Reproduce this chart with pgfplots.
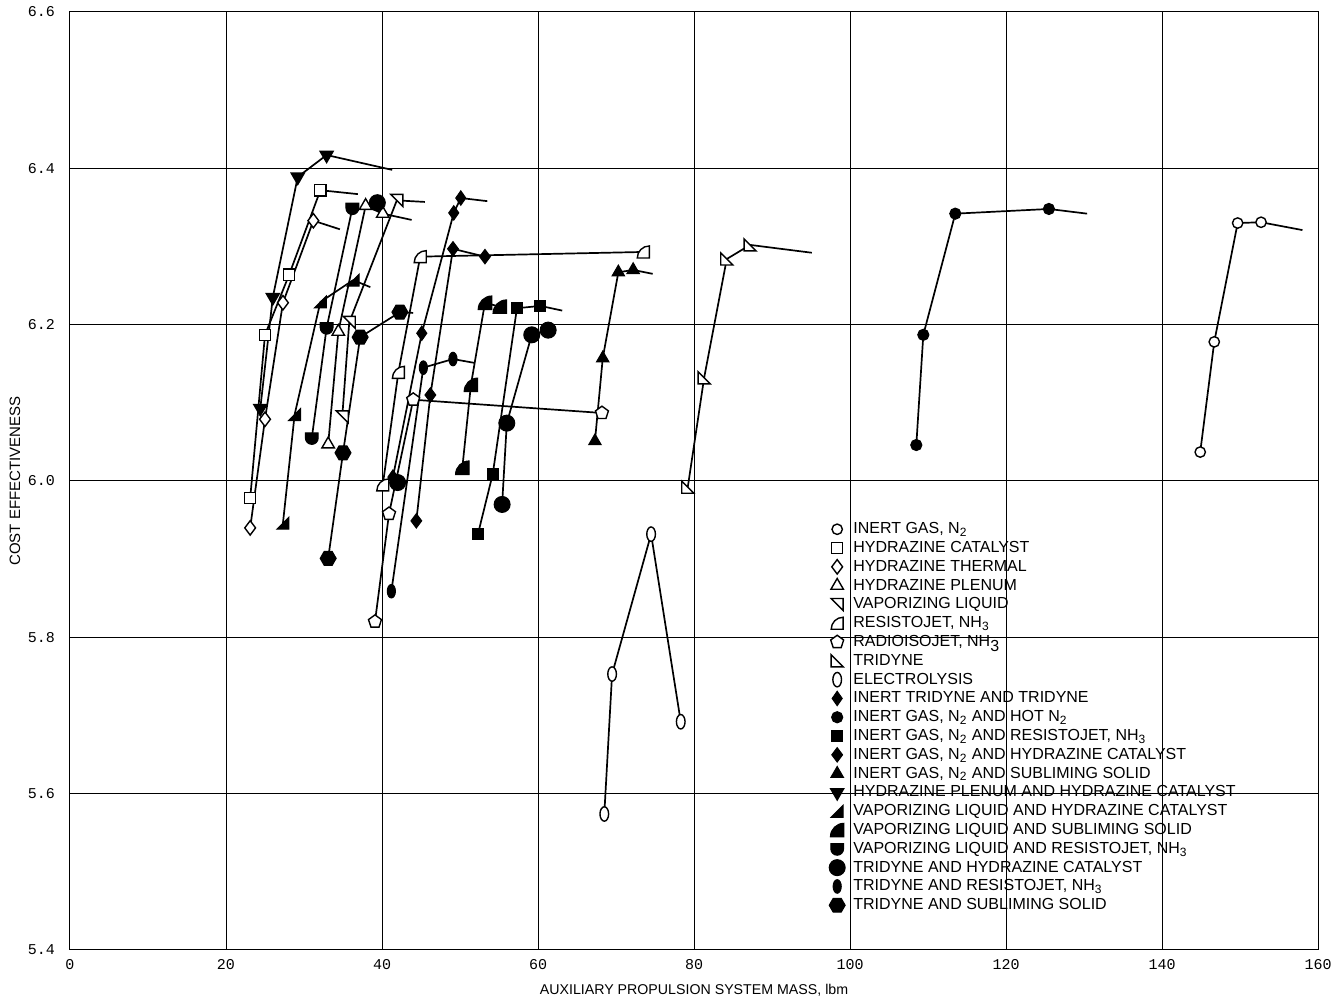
\documentclass[border=0pt]{standalone}
\usepackage{fontspec}
\setmainfont{Liberation Sans}
\setsansfont{Liberation Sans}
\newfontfamily\tickfont{Liberation Mono}
\usepackage{pgfplots}
\pgfplotsset{compat=1.18}
\usetikzlibrary{plotmarks}

% custom marks
\pgfdeclareplotmark{triLL}{% right angle bottom-left
 \pgfpathmoveto{\pgfqpoint{-\pgfplotmarksize}{-\pgfplotmarksize}}
 \pgfpathlineto{\pgfqpoint{\pgfplotmarksize}{-\pgfplotmarksize}}
 \pgfpathlineto{\pgfqpoint{-\pgfplotmarksize}{\pgfplotmarksize}}
 \pgfpathclose\pgfusepathqfillstroke}
\pgfdeclareplotmark{triUR}{% right angle top-right
 \pgfpathmoveto{\pgfqpoint{-\pgfplotmarksize}{\pgfplotmarksize}}
 \pgfpathlineto{\pgfqpoint{\pgfplotmarksize}{\pgfplotmarksize}}
 \pgfpathlineto{\pgfqpoint{\pgfplotmarksize}{-\pgfplotmarksize}}
 \pgfpathclose\pgfusepathqfillstroke}
\pgfdeclareplotmark{triLR}{% right angle bottom-right
 \pgfpathmoveto{\pgfqpoint{-\pgfplotmarksize}{-\pgfplotmarksize}}
 \pgfpathlineto{\pgfqpoint{\pgfplotmarksize}{-\pgfplotmarksize}}
 \pgfpathlineto{\pgfqpoint{\pgfplotmarksize}{\pgfplotmarksize}}
 \pgfpathclose\pgfusepathqfillstroke}
\pgfdeclareplotmark{quart}{% quarter disc, centre bottom-right
 \pgfpathmoveto{\pgfqpoint{-\pgfplotmarksize}{-\pgfplotmarksize}}
 \pgfpathlineto{\pgfqpoint{\pgfplotmarksize}{-\pgfplotmarksize}}
 \pgfpathlineto{\pgfqpoint{\pgfplotmarksize}{\pgfplotmarksize}}
 \pgfpathcurveto{\pgfqpoint{-0.104\pgfplotmarksize}{\pgfplotmarksize}}
                {\pgfqpoint{-\pgfplotmarksize}{0.104\pgfplotmarksize}}
                {\pgfqpoint{-\pgfplotmarksize}{-\pgfplotmarksize}}
 \pgfpathclose\pgfusepathqfillstroke}
\pgfdeclareplotmark{shield}{% flat top, round bottom
 \pgfpathmoveto{\pgfqpoint{-\pgfplotmarksize}{0.8\pgfplotmarksize}}
 \pgfpathlineto{\pgfqpoint{\pgfplotmarksize}{0.8\pgfplotmarksize}}
 \pgfpathlineto{\pgfqpoint{\pgfplotmarksize}{0pt}}
 \pgfpathcurveto{\pgfqpoint{\pgfplotmarksize}{-0.552\pgfplotmarksize}}
                {\pgfqpoint{0.552\pgfplotmarksize}{-\pgfplotmarksize}}
                {\pgfqpoint{0pt}{-\pgfplotmarksize}}
 \pgfpathcurveto{\pgfqpoint{-0.552\pgfplotmarksize}{-\pgfplotmarksize}}
                {\pgfqpoint{-\pgfplotmarksize}{-0.552\pgfplotmarksize}}
                {\pgfqpoint{-\pgfplotmarksize}{0pt}}
 \pgfpathclose\pgfusepathqfillstroke}
\pgfdeclareplotmark{narrowell}{%
 \pgfpathellipse{\pgfpointorigin}{\pgfqpoint{0.6\pgfplotmarksize}{0pt}}{\pgfqpoint{0pt}{\pgfplotmarksize}}
 \pgfusepathqfillstroke}
\pgfdeclareplotmark{narrowdia}{%
 \pgfpathmoveto{\pgfqpoint{0pt}{\pgfplotmarksize}}
 \pgfpathlineto{\pgfqpoint{0.7\pgfplotmarksize}{0pt}}
 \pgfpathlineto{\pgfqpoint{0pt}{-\pgfplotmarksize}}
 \pgfpathlineto{\pgfqpoint{-0.7\pgfplotmarksize}{0pt}}
 \pgfpathclose\pgfusepathqfillstroke}
\pgfdeclareplotmark{hexa}{%
 \pgfpathmoveto{\pgfqpointpolar{0}{\pgfplotmarksize}}
 \pgfpathlineto{\pgfqpointpolar{60}{\pgfplotmarksize}}
 \pgfpathlineto{\pgfqpointpolar{120}{\pgfplotmarksize}}
 \pgfpathlineto{\pgfqpointpolar{180}{\pgfplotmarksize}}
 \pgfpathlineto{\pgfqpointpolar{240}{\pgfplotmarksize}}
 \pgfpathlineto{\pgfqpointpolar{300}{\pgfplotmarksize}}
 \pgfpathclose\pgfusepathqfillstroke}

\pgfplotsset{
 openm/.style={black, line width=0.85pt, mark size=3pt, mark options={draw=black, fill=white, solid, line width=0.7pt}},
 fillm/.style={black, line width=0.85pt, mark size=3pt, mark options={draw=black, fill=black, solid, line width=0.5pt}},
 tail/.style={forget plot, black, line width=0.85pt, no marks},
}

\begin{document}
\begin{tikzpicture}
\path[use as bounding box] (-35pt,-25pt) rectangle (634.5pt,475pt);
\begin{axis}[
 at={(0,0)}, anchor=south west, scale only axis, width=624pt, height=469pt,
 xmin=0, xmax=160, ymin=5.4, ymax=6.6,
 xtick={0,20,40,60,80,100,120,140,160},
 ytick={5.4,5.6,5.8,6.0,6.2,6.4,6.6},
 grid=major, grid style={black, line width=0.5pt},
 axis line style={line width=0.5pt},
 major tick length=0pt,
 /pgf/number format/assume math mode=true,
 yticklabel={\pgfmathprintnumber[fixed,fixed zerofill,precision=1]{\tick}},
 xticklabel style={font=\tickfont\fontsize{7.5}{8}\selectfont, yshift=-1pt},
 yticklabel style={font=\tickfont\fontsize{7.5}{8}\selectfont, xshift=-4pt},
 xlabel={AUXILIARY PROPULSION SYSTEM MASS, lbm},
 ylabel={COST EFFECTIVENESS},
 xlabel style={font=\fontsize{7.1}{8}\selectfont, at={(axis description cs:0.5,-0.0426)}, anchor=center},
 ylabel style={font=\fontsize{7.5}{8}\selectfont, at={(axis description cs:-0.0441,0.5)}, anchor=center},
 legend image code/.code={\draw[#1] plot coordinates {(0pt,0pt)};},
 legend cell align=left,
 legend style={at={(0.608,0.459)}, anchor=north west, draw=none, fill=none, inner sep=0pt,
   font=\fontsize{8}{9.5}\selectfont, row sep=0pt,
   /tikz/every odd column/.append style={column sep=3.5pt},
   nodes={inner sep=0.6pt, text height=6.3pt, text depth=1.9pt}},
]
% 1 inert gas N2
\addplot[openm, mark=*, mark size=2.6pt] coordinates {(144.9,6.037)(146.7,6.178)(149.7,6.330)(152.7,6.331)};
\addlegendentry{INERT GAS, N\textsubscript{2}}
% 2 hydrazine catalyst
\addplot[openm, mark=square*, mark size=2.8pt] coordinates {(23.1,5.978)(25.0,6.187)(28.1,6.264)(32.1,6.372)};
\addlegendentry{HYDRAZINE CATALYST}
% 3 hydrazine thermal
\addplot[openm, mark=diamond*, mark size=3.6pt] coordinates {(23.1,5.940)(25.0,6.079)(27.3,6.228)(31.2,6.333)};
\addlegendentry{HYDRAZINE THERMAL}
% 4 hydrazine plenum
\addplot[openm, mark=triangle*, mark size=3.6pt] coordinates {(33.1,6.047)(34.4,6.191)(37.9,6.352)(40.1,6.342)};
\addlegendentry{HYDRAZINE PLENUM}
% 5 vaporizing liquid
\addplot[openm, mark=triUR, mark size=3pt] coordinates {(34.9,6.082)(35.8,6.203)(41.9,6.359)};
\addlegendentry{VAPORIZING LIQUID}
% 6 resistojet
\addplot[openm, mark=quart, mark size=3pt] coordinates {(40.1,5.995)(42.1,6.139)(44.9,6.287)(73.5,6.293)};
\addlegendentry{RESISTOJET, NH\textsubscript{3}}
% 7 radioisojet
\addplot[openm, mark=pentagon*, mark size=3.4pt] coordinates {(39.1,5.820)(40.9,5.958)(44.0,6.104)(68.2,6.087)};
\addlegendentry{RADIOISOJET, NH\raisebox{-0.6ex}{3}}
% 8 tridyne
\addplot[openm, mark=triLL, mark size=3pt] coordinates {(79.2,5.992)(81.3,6.132)(84.2,6.284)(87.2,6.302)};
\addlegendentry{TRIDYNE}
% 9 electrolysis
\addplot[openm, mark=narrowell, mark size=3.6pt] coordinates {(68.5,5.574)(69.5,5.753)(74.5,5.932)(78.3,5.692)};
\addlegendentry{ELECTROLYSIS}
% 10 inert tridyne and tridyne
\addplot[fillm, mark=narrowdia, mark size=3.6pt] coordinates {(41.4,6.005)(45.1,6.189)(49.2,6.343)(50.1,6.362)};
\addlegendentry{INERT TRIDYNE AND TRIDYNE}
% 11 inert gas N2 and hot N2
\addplot[fillm, mark=*, mark size=2.8pt] coordinates {(108.5,6.046)(109.4,6.187)(113.5,6.342)(125.5,6.348)};
\addlegendentry{INERT GAS, N\textsubscript{2} AND HOT N\textsubscript{2}}
% 12 inert gas N2 and resistojet
\addplot[fillm, mark=square*, mark size=2.8pt] coordinates {(52.3,5.932)(54.2,6.009)(57.3,6.221)(60.3,6.224)};
\addlegendentry{INERT GAS, N\textsubscript{2} AND RESISTOJET, NH\textsubscript{3}}
% 13 inert gas N2 and hydrazine catalyst
\addplot[fillm, mark=diamond*, mark size=3.6pt] coordinates {(44.4,5.949)(46.2,6.110)(49.1,6.297)(53.2,6.287)};
\addlegendentry{INERT GAS, N\textsubscript{2} AND HYDRAZINE CATALYST}
% 14 inert gas N2 and subliming solid
\addplot[fillm, mark=triangle*, mark size=3.6pt] coordinates {(67.3,6.051)(68.3,6.157)(70.3,6.267)(72.2,6.270)};
\addlegendentry{INERT GAS, N\textsubscript{2} AND SUBLIMING SOLID}
% 15 hydrazine plenum and hydrazine catalyst
\addplot[fillm, mark=triangle*, mark size=3.6pt, mark options={rotate=180}] coordinates {(24.4,6.093)(26.0,6.235)(29.2,6.389)(32.9,6.417)};
\addlegendentry{HYDRAZINE PLENUM AND HYDRAZINE CATALYST}
% 16 vaporizing liquid and hydrazine catalyst
\addplot[fillm, mark=triLR, mark size=3pt] coordinates {(27.3,5.946)(28.8,6.085)(32.1,6.229)(36.3,6.257)};
\addlegendentry{VAPORIZING LIQUID AND HYDRAZINE CATALYST}
% 17 vaporizing liquid and subliming solid
\addplot[fillm, mark=quart, mark size=3.4pt] coordinates {(50.3,6.017)(51.4,6.123)(53.2,6.228)(55.1,6.223)};
\addlegendentry{VAPORIZING LIQUID AND SUBLIMING SOLID}
% 18 vaporizing liquid and resistojet
\addplot[fillm, mark=shield, mark size=3.2pt] coordinates {(31.0,6.055)(32.9,6.196)(36.2,6.349)};
\addlegendentry{VAPORIZING LIQUID AND RESISTOJET, NH\textsubscript{3}}
% 19 tridyne and hydrazine catalyst
\addplot[fillm, mark=*, mark size=4pt] coordinates {(55.4,5.970)(56.0,6.074)(59.2,6.187)(61.3,6.193)};
\addlegendentry{TRIDYNE AND HYDRAZINE CATALYST}
% 20 tridyne and resistojet
\addplot[fillm, mark=narrowell, mark size=3.4pt] coordinates {(41.2,5.859)(45.3,6.145)(49.1,6.156)};
\addlegendentry{TRIDYNE AND RESISTOJET, NH\textsubscript{3}}
% 21 tridyne and subliming solid
\addplot[fillm, mark=hexa, mark size=4pt] coordinates {(33.1,5.901)(35.0,6.036)(37.2,6.184)(42.3,6.216)};
\addlegendentry{TRIDYNE AND SUBLIMING SOLID}

% extra isolated marks
\addplot[fillm, forget plot, only marks, mark=*, mark size=4pt] coordinates {(42.0,5.998)(39.4,6.356)};

% tails
\addplot[tail] coordinates {(152.7,6.331)(158.0,6.321)};
\addplot[tail] coordinates {(32.1,6.372)(36.9,6.367)};
\addplot[tail] coordinates {(31.2,6.333)(34.6,6.322)};
\addplot[tail] coordinates {(40.1,6.342)(43.8,6.334)};
\addplot[tail] coordinates {(41.9,6.359)(45.5,6.357)};
\addplot[tail] coordinates {(87.2,6.302)(95.1,6.292)};
\addplot[tail] coordinates {(50.1,6.362)(53.5,6.358)};
\addplot[tail] coordinates {(125.5,6.348)(130.4,6.342)};
\addplot[tail] coordinates {(60.3,6.224)(63.1,6.218)};
\addplot[tail] coordinates {(72.2,6.270)(74.7,6.265)};
\addplot[tail] coordinates {(32.9,6.417)(41.3,6.398)};
\addplot[tail] coordinates {(36.3,6.257)(38.5,6.248)};
\addplot[tail] coordinates {(49.1,6.156)(51.9,6.151)};
\addplot[tail] coordinates {(42.3,6.216)(44.0,6.215)};
\end{axis}
\end{tikzpicture}
\end{document}
